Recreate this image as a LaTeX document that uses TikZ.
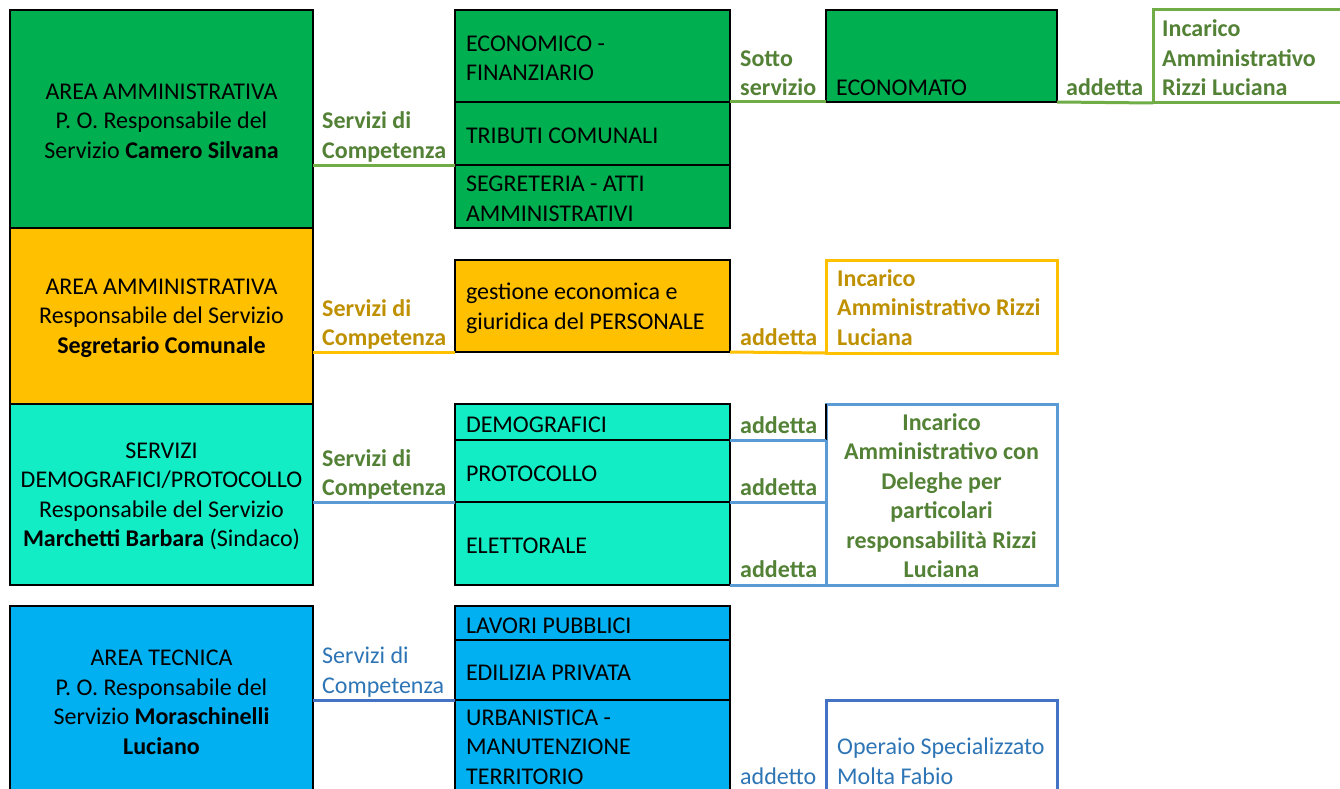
\documentclass[tikz,border=0pt]{standalone}
\usepackage{fontspec}
\setmainfont{Carlito}
\definecolor{fgreen}{HTML}{00B050}
\definecolor{lgreen}{HTML}{70AD47}
\definecolor{tgreen}{HTML}{538135}
\definecolor{forange}{HTML}{FFC000}
\definecolor{torange}{HTML}{BF9000}
\definecolor{fteal}{HTML}{13EDC5}
\definecolor{lteal}{HTML}{5B9BD5}
\definecolor{fblue}{HTML}{00B0F0}
\definecolor{lblue}{HTML}{4472C4}
\definecolor{tblue}{HTML}{2E75B6}
\newcommand{\mtxt}[1]{\raisebox{-2.5pt}[\height][\depth]{\parbox{253pt}{\raggedright #1}}}
\newcommand{\ltxt}[1]{\raisebox{-2pt}[\height][\depth]{\parbox{299pt}{\centering #1}}}
\begin{document}
\begin{tikzpicture}[x=1pt,y=-1pt,
  font=\fontsize{24}{29.5}\selectfont,
  box/.style={draw=black, line width=2pt, anchor=north west, inner sep=0pt, outer sep=0pt},
  lbox/.style={box, minimum width=303pt, inner xsep=2pt},
  mbox/.style={box, minimum width=275pt, inner xsep=11pt},
  rbox/.style={anchor=north west, inner sep=0pt, outer sep=0pt, minimum width=231pt, line width=3pt},
  lab/.style={anchor=base west, inner sep=0pt, align=left},
  blab/.style={lab, font=\fontsize{24}{29.5}\selectfont\bfseries},
  gline/.style={draw=lgreen, line width=3pt},
  oline/.style={draw=forange, line width=3pt},
  tline/.style={draw=lteal, line width=3pt},
  bline/.style={draw=lblue, line width=3pt}]
\clip (0,0) rectangle (1340,789);
\fill[white] (0,0) rectangle (1340,789);

% ---------- left boxes
\node[lbox, fill=fgreen, minimum height=218pt] (A) at (10,10)
  {\ltxt{AREA AMMINISTRATIVA\\P. O. Responsabile del\\Servizio \textbf{Camero Silvana}}};
\node[lbox, fill=forange, minimum height=176pt] (B) at (10,228)
  {\ltxt{AREA AMMINISTRATIVA\\Responsabile del Servizio\\\textbf{Segretario Comunale}}};
\node[lbox, fill=fteal, minimum height=181pt] (C) at (10,404)
  {\ltxt{SERVIZI\\DEMOGRAFICI/PROTOCOLLO\\Responsabile del Servizio\\\textbf{Marchetti Barbara} (Sindaco)}};
\node[lbox, fill=fblue, minimum height=189pt] (D) at (10,606)
  {\ltxt{AREA TECNICA\\P. O. Responsabile del\\Servizio \textbf{Moraschinelli}\\\textbf{Luciano}}};

% ---------- green row
\node[mbox, fill=fgreen, minimum height=92pt] (econ1) at (455,10) {\mtxt{ECONOMICO -\\FINANZIARIO}};
\node[mbox, fill=fgreen, minimum height=63pt] (trib) at (455,102) {\mtxt{TRIBUTI COMUNALI}};
\node[mbox, fill=fgreen, minimum height=63pt] (segr) at (455,165) {\mtxt{SEGRETERIA - ATTI\\AMMINISTRATIVI}};
\node[box, fill=fgreen, minimum width=231pt, minimum height=92pt] (econ2) at (826,10) {};
\node[lab] (econ2t) at (836,96) {ECONOMATO};
\node[rbox, draw=lgreen, minimum width=260pt, minimum height=93pt] (inc1) at (1153,10) {};

\draw[gline] (A.east |- segr.north west) -- (segr.north west);
\draw[gline] (econ1.south east) -- (econ2.south west);
\draw[gline] (econ2.south east) -- (inc1.south west);

\node[blab, text=tgreen] (l1) at (322,158) {Servizi di\\Competenza};
\node[blab, text=tgreen] (l2) at (740,96) {Sotto\\servizio};
\node[blab, text=tgreen] (l3) at (1066,96) {addetta};
\node[blab, text=tgreen] (i1) at (1162,96) {Incarico\\Amministrativo\\Rizzi Luciana};

% ---------- orange row
\node[mbox, fill=forange, minimum height=92pt] (gest) at (455,260) {\mtxt{gestione economica e\\giuridica del PERSONALE}};
\node[rbox, draw=forange, minimum height=93pt] (inc2) at (826,260) {};
\draw[oline] (B.east |- gest.south west) -- (gest.south west);
\draw[oline] (gest.south east) -- (inc2.south west);
\node[blab, text=torange] (l4) at (322,345.5) {Servizi di\\Competenza};
\node[blab, text=torange] (l5) at (740,345.5) {addetta};
\node[blab, text=torange] (i2) at (837,345) {Incarico\\Amministrativo Rizzi\\Luciana};

% ---------- teal row
\node[mbox, fill=fteal, minimum height=36pt] (demo) at (455,404) {\mtxt{DEMOGRAFICI}};
\node[mbox, fill=fteal, minimum height=62pt] (prot) at (455,440) {\mtxt{PROTOCOLLO}};
\node[mbox, fill=fteal, minimum height=83pt] (elet) at (455,502) {\mtxt{ELETTORALE}};
\node[rbox, draw=lteal, minimum height=181pt] (inc3) at (826,404) {};
\draw[black, line width=1.5pt] (inc3.north west) -- (inc3.west |- demo.south);
\draw[tline] (C.east |- elet.north west) -- (elet.north west);
\draw[tline] (demo.south east) -- (demo.south east -| inc3.west);
\draw[tline] (prot.south east) -- (prot.south east -| inc3.west);
\draw[tline] (elet.south east) -- (inc3.south west);
\node[blab, text=tgreen] (l6) at (322,495.5) {Servizi di\\Competenza};
\node[blab, text=tgreen] (l7) at (740,433) {addetta};
\node[blab, text=tgreen] (l8) at (740,495) {addetta};
\node[blab, text=tgreen] (l9) at (740,577.5) {addetta};
\node[blab, anchor=base, align=center, text=tgreen] (i3) at (941.5,577.5)
  {Incarico\\Amministrativo con\\Deleghe per\\particolari\\responsabilità Rizzi\\Luciana};

% ---------- blue row
\node[mbox, fill=fblue, minimum height=34pt] (lav) at (455,606) {\mtxt{LAVORI PUBBLICI}};
\node[mbox, fill=fblue, minimum height=60pt] (edil) at (455,640) {\mtxt{EDILIZIA PRIVATA}};
\node[box, fill=fblue, minimum width=275pt, minimum height=100pt] (urb) at (455,700) {};
\draw[black, line width=1pt] (edil.south west) -- (edil.south east);
\node[lab] (urbt) at (466,784) {URBANISTICA -\\MANUTENZIONE\\TERRITORIO};
\node[rbox, draw=lblue, minimum height=100pt] (op) at (826,700) {};
\draw[bline] (D.east |- urb.north west) -- (urb.north west);
\node[lab, text=tblue] (l10) at (322,693) {Servizi di\\Competenza};
\node[lab, text=tblue] (l11) at (740,784) {addetto};
\node[lab, text=tblue] (i4) at (837,784) {Operaio Specializzato\\Molta Fabio};
\end{tikzpicture}
\end{document}
